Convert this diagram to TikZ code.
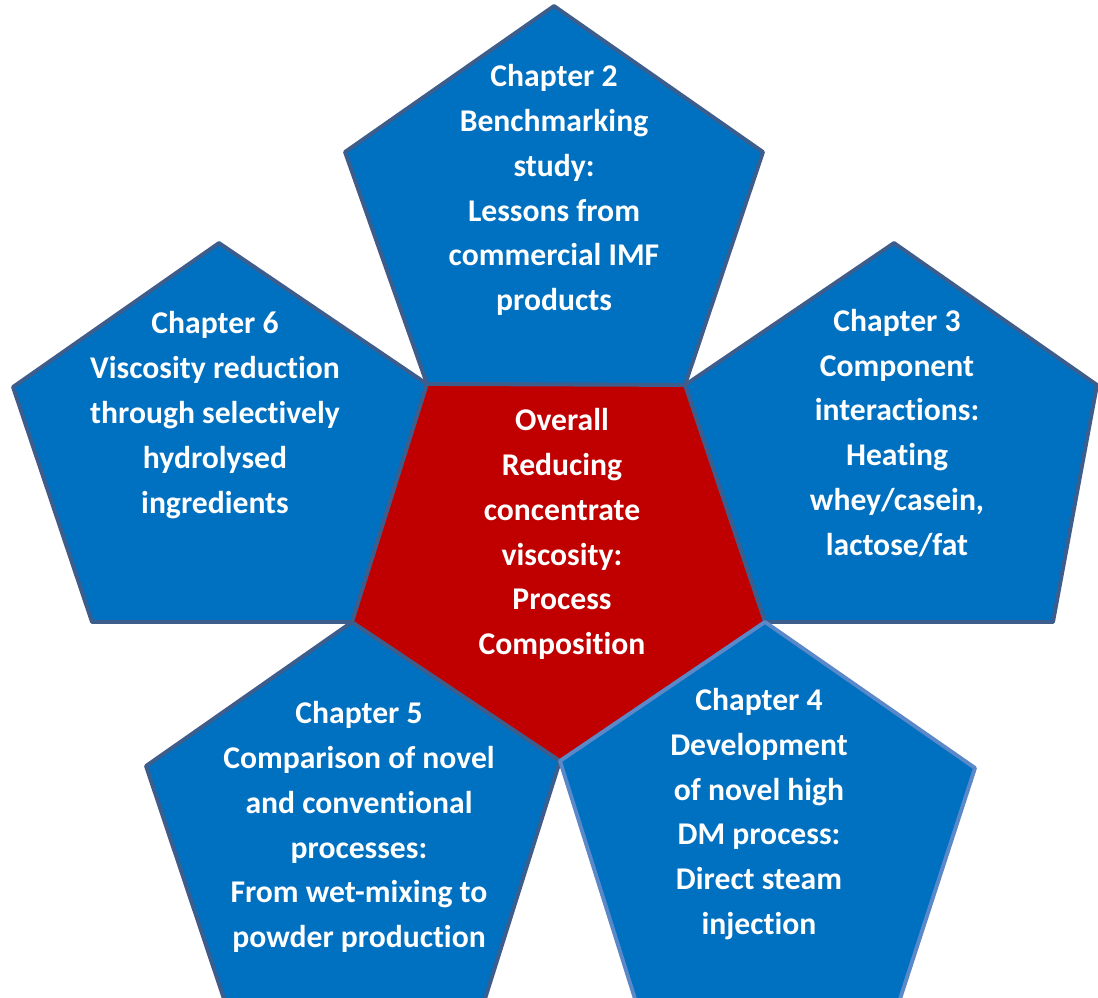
\documentclass[tikz,border=0pt]{standalone}
\usepackage{fontspec}
\setmainfont{Carlito}[Ligatures=NoCommon]
\definecolor{petalblue}{HTML}{0070C0}
\definecolor{petaledge}{HTML}{3D5E8C}
\definecolor{lightedge}{HTML}{5A88C8}
\definecolor{corered}{HTML}{C00000}
\tikzset{
  petal/.style={fill=petalblue, draw=petaledge, line width=1.1pt, line join=round},
  core/.style={fill=corered, draw=petaledge, line width=1.1pt, line join=round},
  chaptext/.style={text=white, align=center, inner sep=0pt,
    font=\bfseries\fontsize{9}{12.75}\selectfont}
}
\begin{document}
\begin{tikzpicture}[x=0.01cm, y=-0.01cm]
\useasboundingbox (0,0) rectangle (1098,998);
% shared corners of the core
\coordinate (tl) at (427,384);
\coordinate (tr) at (685,385);
\coordinate (r) at (765,622);
\coordinate (b) at (560,761);
\coordinate (l) at (352,622);
% petals
\draw[petal] (554,6) -- (763,152) -- (tr) -- (tl) -- (345,152) -- cycle;
\draw[petal] (894,243) -- (1097,385) -- (1053,622) -- (r) -- (tr) -- cycle;
\draw[petal] (219,243) -- (tl) -- (l) -- (92,622) -- (13,387) -- cycle;
\draw[petal] (l) -- (b) -- (484,1002) -- (225,1002) -- (146,766) -- cycle;
\draw[core] (tl) -- (tr) -- (r) -- (b) -- (l) -- cycle;
\draw[petal, draw=lightedge] (r) -- (975,768) -- (899,1002) -- (636,1002) -- (b) -- cycle;
% texts
\node[chaptext] (chap2) at (554,190) {Chapter 2\\Benchmarking\\study:\\Lessons from\\commercial IMF\\products};
\node[chaptext] (chap3) at (897,433) {Chapter 3\\Component\\interactions:\\Heating\\whey/casein,\\lactose/fat};
\node[chaptext] (chap6) at (215,415) {Chapter 6\\Viscosity reduction\\through selectively\\hydrolysed\\ingredients};
\node[chaptext] (overall) at (562,534) {Overall\\Reducing\\concentrate\\viscosity:\\Process\\Composition};
\node[chaptext] (chap5) at (359,827) {Chapter 5\\Comparison of novel\\and conventional\\processes:\\From wet-mixing to\\powder production};
\node[chaptext] (chap4) at (759,814) {Chapter 4\\Development\\of novel high\\DM process:\\Direct steam\\injection};
\end{tikzpicture}
\end{document}
